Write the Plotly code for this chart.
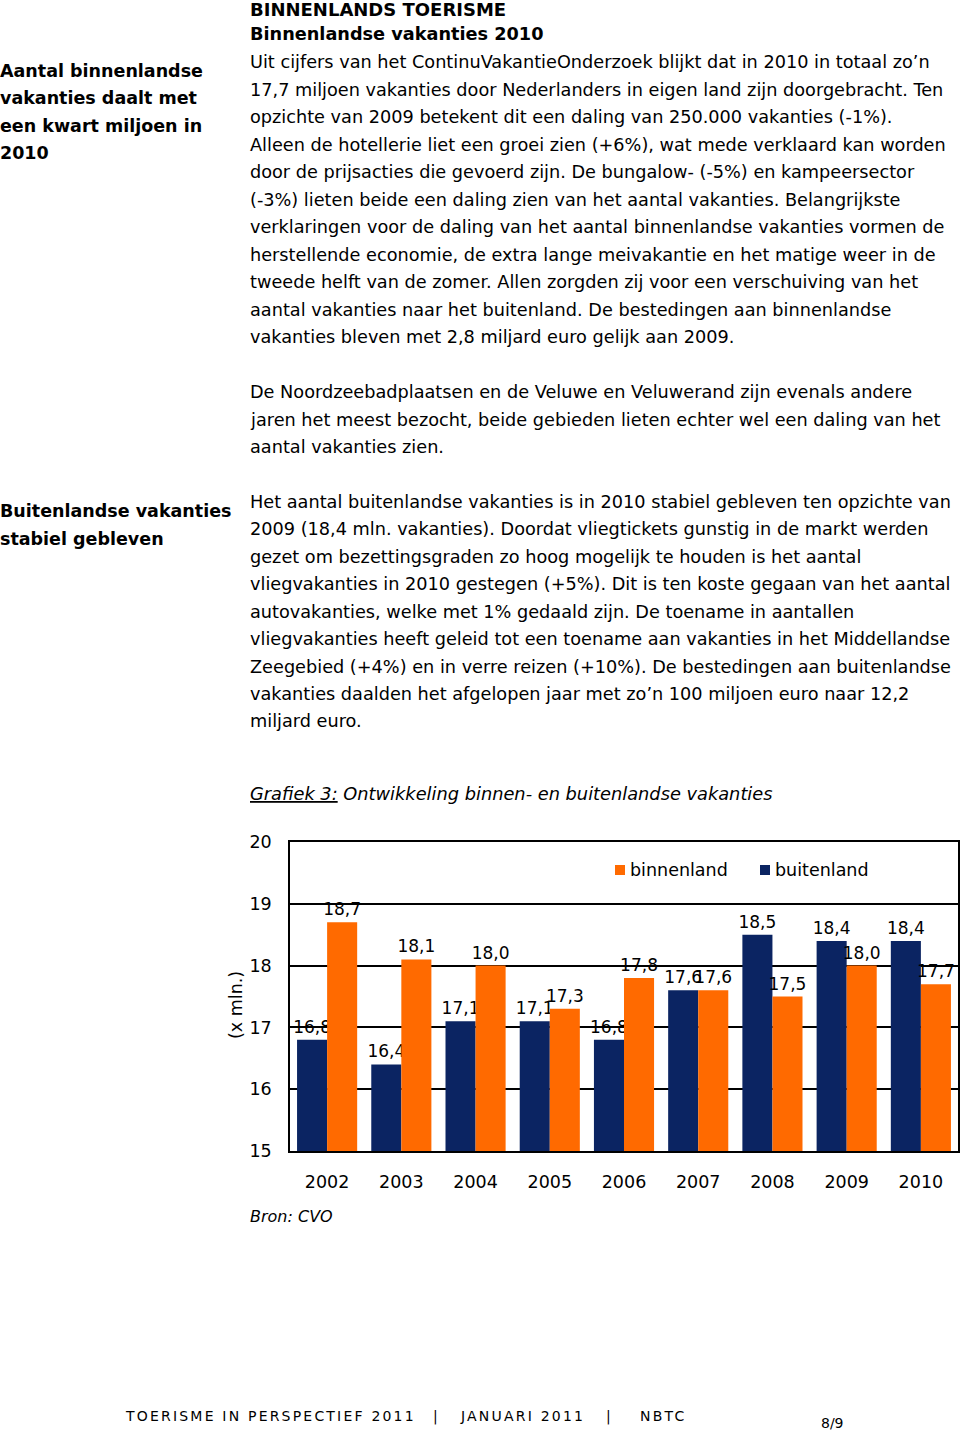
import plotly.graph_objects as go

W, H = 960, 1434

years = ["2002", "2003", "2004", "2005", "2006", "2007", "2008", "2009", "2010"]
buitenland = [16.8, 16.4, 17.1, 17.1, 16.8, 17.6, 18.5, 18.4, 18.4]
binnenland = [18.7, 18.1, 18.0, 17.3, 17.8, 17.6, 17.5, 18.0, 17.7]
y_ticks = [15, 16, 17, 18, 19, 20]

NAVY = "#0B2462"
ORANGE = "#FF6A00"
FONT = "DejaVu Sans"

def fmt(v):
    return f"{v:.1f}".replace(".", ",")

def px(x):
    return x / W

def py(y):
    return 1 - y / H

fig = go.Figure()
fig.add_trace(go.Bar(
    x=years, y=[v - 15 for v in buitenland], base=15, name="buitenland",
    marker=dict(color=NAVY, line=dict(width=0)),
    text=[fmt(v) for v in buitenland], textposition="outside", constraintext="none",
    textfont=dict(family=FONT, size=17, color="black"),
    cliponaxis=False, showlegend=False,
))
fig.add_trace(go.Bar(
    x=years, y=[v - 15 for v in binnenland], base=15, name="binnenland",
    marker=dict(color=ORANGE, line=dict(width=0)),
    text=[fmt(v) for v in binnenland], textposition="outside", constraintext="none",
    textfont=dict(family=FONT, size=17, color="black"),
    cliponaxis=False, showlegend=False,
))

fig.update_layout(
    width=W, height=H,
    margin=dict(l=0, r=0, t=0, b=0, autoexpand=False),
    paper_bgcolor="white", plot_bgcolor="white",
    font=dict(family=FONT, size=16, color="black"),
    barmode="group", bargap=0.19, bargroupgap=0,
    showlegend=False,
    xaxis=dict(domain=[px(290), px(958)], range=[-0.5, 8.5], type="category",
               showline=True, mirror=True, linecolor="black", linewidth=1.5,
               ticks="", tickfont=dict(family=FONT, size=17.5), ticklabelstandoff=14,
               showgrid=False),
    yaxis=dict(domain=[py(1151), py(842)], range=[15, 20], tickvals=y_ticks,
               showline=True, mirror=True, linecolor="black", linewidth=1.5,
               showgrid=True, gridcolor="black", gridwidth=1.5,
               ticks="", tickfont=dict(family=FONT, size=17.5), ticklabelstandoff=13,
               zeroline=False),
)

annos = []

def txt(x, y, s, size=17.7, color="black", anchor="left"):
    annos.append(dict(x=px(x), y=py(y), xref="paper", yref="paper", text=s,
                      showarrow=False, xanchor=anchor, yanchor="middle", borderpad=0,
                      font=dict(family=FONT, size=size, color=color)))

left_heads = [
    ("Aantal binnenlandse", 71), ("vakanties daalt met", 98),
    ("een kwart miljoen in", 126), ("2010", 153),
    ("Buitenlandse vakanties", 511), ("stabiel gebleven", 539),
]
for s, y in left_heads:
    txt(-1, y, f"<b>{s}</b>", size=17.5)

txt(249, 10, "<b>BINNENLANDS TOERISME</b>", size=18)
txt(249, 34, "<b>Binnenlandse vakanties 2010</b>")

body = [
    ("Uit cijfers van het ContinuVakantieOnderzoek blijkt dat in 2010 in totaal zo’n", 62),
    ("17,7 miljoen vakanties door Nederlanders in eigen land zijn doorgebracht. Ten", 90),
    ("opzichte van 2009 betekent dit een daling van 250.000 vakanties (-1%).", 117),
    ("Alleen de hotellerie liet een groei zien (+6%), wat mede verklaard kan worden", 145),
    ("door de prijsacties die gevoerd zijn. De bungalow- (-5%) en kampeersector", 172),
    ("(-3%) lieten beide een daling zien van het aantal vakanties. Belangrijkste", 200),
    ("verklaringen voor de daling van het aantal binnenlandse vakanties vormen de", 227),
    ("herstellende economie, de extra lange meivakantie en het matige weer in de", 255),
    ("tweede helft van de zomer. Allen zorgden zij voor een verschuiving van het", 282),
    ("aantal vakanties naar het buitenland. De bestedingen aan binnenlandse", 310),
    ("vakanties bleven met 2,8 miljard euro gelijk aan 2009.", 337),
    ("De Noordzeebadplaatsen en de Veluwe en Veluwerand zijn evenals andere", 392),
    ("jaren het meest bezocht, beide gebieden lieten echter wel een daling van het", 420),
    ("aantal vakanties zien.", 447),
    ("Het aantal buitenlandse vakanties is in 2010 stabiel gebleven ten opzichte van", 502),
    ("2009 (18,4 mln. vakanties). Doordat vliegtickets gunstig in de markt werden", 529),
    ("gezet om bezettingsgraden zo hoog mogelijk te houden is het aantal", 557),
    ("vliegvakanties in 2010 gestegen (+5%). Dit is ten koste gegaan van het aantal", 584),
    ("autovakanties, welke met 1% gedaald zijn. De toename in aantallen", 612),
    ("vliegvakanties heeft geleid tot een toename aan vakanties in het Middellandse", 639),
    ("Zeegebied (+4%) en in verre reizen (+10%). De bestedingen aan buitenlandse", 667),
    ("vakanties daalden het afgelopen jaar met zo’n 100 miljoen euro naar 12,2", 694),
    ("miljard euro.", 721),
]
for s, y in body:
    txt(249, y, s)

txt(249, 793, "<i><u>Grafiek 3:</u> Ontwikkeling binnen- en buitenlandse vakanties</i>", size=17.8)
txt(249, 1216, "<i>Bron: CVO</i>", size=16)

# legend
legend_items = [("binnenland", ORANGE, 615), ("buitenland", NAVY, 760)]
shapes = []
for name, col, x0 in legend_items:
    shapes.append(dict(type="rect", xref="paper", yref="paper",
                       x0=px(x0), x1=px(x0 + 10), y0=py(875), y1=py(865),
                       fillcolor=col, line=dict(width=0)))
    txt(x0 + 14, 870, name, size=17.5)

annos.append(dict(x=px(236), y=py(1005), xref="paper", yref="paper", text="(x mln.)",
                  showarrow=False, textangle=-90, xanchor="center", yanchor="middle",
                  font=dict(family=FONT, size=17.5, color="black")))

LS = '<span style="letter-spacing:2.2px">{}</span>'
txt(124, 1416, LS.format("TOERISME IN PERSPECTIEF 2011"), size=14)
txt(432, 1416, "|", size=14)
txt(459, 1416, LS.format("JANUARI 2011"), size=14)
txt(605, 1416, "|", size=14)
txt(639, 1416, LS.format("NBTC"), size=14)
txt(820, 1423, "8/9", size=14)

fig.update_layout(annotations=annos, shapes=shapes)
fig.write_html("out.html", config={"displayModeBar": False},
               post_script="document.body.style.margin='0';")
